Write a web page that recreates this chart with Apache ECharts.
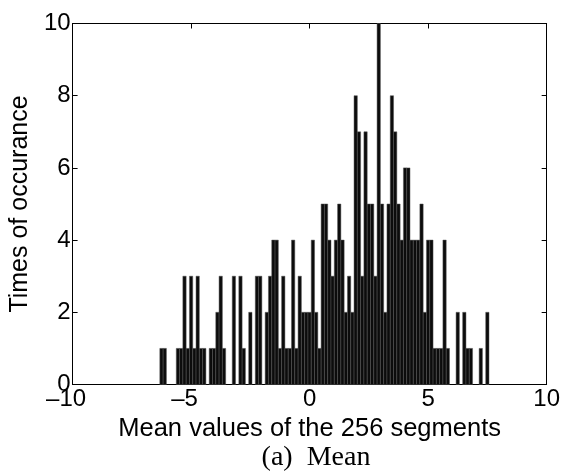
<!DOCTYPE html>
<html>
<head>
<meta charset="utf-8">
<script src="https://cdn.jsdelivr.net/npm/echarts@6/dist/echarts.min.js"></script>
<style>html,body{margin:0;padding:0;background:#fff}#c{width:563px;height:472px}</style>
</head>
<body>
<div id="c"></div>
<script>
// Histogram of 100 bins (MATLAB hist style)
const binStart = -6.32;   // left edge of first bin
const binEnd = 7.568;     // right edge of last bin
const counts = [1,1,0,0,0,1,1,3,1,3,
  1,3,1,1,0,1,1,2,3,1,
  0,0,3,0,3,1,0,2,0,3,
  3,0,2,3,4,4,1,3,1,1,
  4,1,3,2,2,2,4,2,1,5,
  5,4,3,4,5,4,2,3,2,8,
  7,3,7,5,5,3,10,5,2,5,
  8,7,5,4,6,6,4,4,4,5,
  2,4,4,1,1,1,4,1,0,0,
  2,0,2,1,1,0,0,1,0,2];
const xTicks = [-10, -5, 0, 5, 10];
const yTicks = [0, 2, 4, 6, 8, 10];
const xName = 'Mean values of the 256 segments';
const yName = 'Times of occurance';
const caption = '(a)  Mean';

const w = (binEnd - binStart) / counts.length;
const bars = counts.map((c, i) => [binStart + i * w, binStart + (i + 1) * w, c]);

const FONT = '"Liberation Sans", Arial, sans-serif';
const TICK_FS = 24;
const fmt = v => v < 0 ? '{neg|\u2013' + Math.abs(v) + '}' : '{pos|' + v + '}';
const lab = {color: '#000', fontSize: TICK_FS, fontFamily: FONT};

const chart = echarts.init(document.getElementById('c'), null, {renderer: 'canvas'});
chart.setOption({
  animation: false,
  backgroundColor: '#fff',
  grid: {left: 67.7, top: 23.5, width: 479.8, height: 361},
  xAxis: [{
    type: 'value', min: -10, max: 10, interval: 5, position: 'bottom',
    axisLine: {show: true, onZero: false, lineStyle: {color: '#000', width: 1}},
    axisTick: {show: true, inside: true, length: 5, lineStyle: {color: '#000'}},
    axisLabel: Object.assign({formatter: fmt, margin: 3, rich: {
      neg: {fontSize: TICK_FS, fontFamily: FONT, color: '#000', padding: [0, 13, 0, 0]},
      pos: {fontSize: TICK_FS, fontFamily: FONT, color: '#000'}
    }}, lab),
    splitLine: {show: false},
    name: xName, nameLocation: 'middle', nameGap: 31,
    nameTextStyle: {color: '#000', fontSize: 25.5, fontFamily: FONT}
  }, {
    type: 'value', min: -10, max: 10, interval: 5, position: 'top',
    axisLine: {show: true, onZero: false, lineStyle: {color: '#000', width: 1}},
    axisTick: {show: true, inside: true, length: 5, lineStyle: {color: '#000'}},
    axisLabel: {show: false}, splitLine: {show: false}
  }],
  yAxis: [{
    type: 'value', min: 0, max: 10, interval: 2, position: 'left',
    axisLine: {show: true, onZero: false, lineStyle: {color: '#000', width: 1}},
    axisTick: {show: true, inside: true, length: 5, lineStyle: {color: '#000'}},
    axisLabel: Object.assign({margin: 2}, lab),
    splitLine: {show: false},
    name: yName, nameLocation: 'middle', nameGap: 33,
    nameTextStyle: {color: '#000', fontSize: 25, fontFamily: FONT}
  }, {
    type: 'value', min: 0, max: 10, interval: 2, position: 'right',
    axisLine: {show: true, onZero: false, lineStyle: {color: '#000', width: 1}},
    axisTick: {show: true, inside: true, length: 5, lineStyle: {color: '#000'}},
    axisLabel: {show: false}, splitLine: {show: false}
  }],
  graphic: [{
    type: 'text', x: 316, y: 458,
    style: {text: caption, textAlign: 'center', textVerticalAlign: 'middle',
      font: '28px "Liberation Serif", "Times New Roman", serif', fill: '#000'}
  }],
  series: [{
    type: 'custom',
    xAxisIndex: 0, yAxisIndex: 0,
    data: bars,
    encode: {x: [0, 1], y: 2},
    renderItem: function (params, api) {
      const h = api.value(2);
      if (!h) return null;
      const p0 = api.coord([api.value(0), h]);
      const p1 = api.coord([api.value(1), 0]);
      return {
        type: 'rect',
        shape: {x: p0[0], y: p0[1], width: p1[0] - p0[0], height: p1[1] - p0[1]},
        style: {fill: '#0c0c0c', stroke: '#555', lineWidth: 0.5}
      };
    }
  }]
});
</script>
</body>
</html>
